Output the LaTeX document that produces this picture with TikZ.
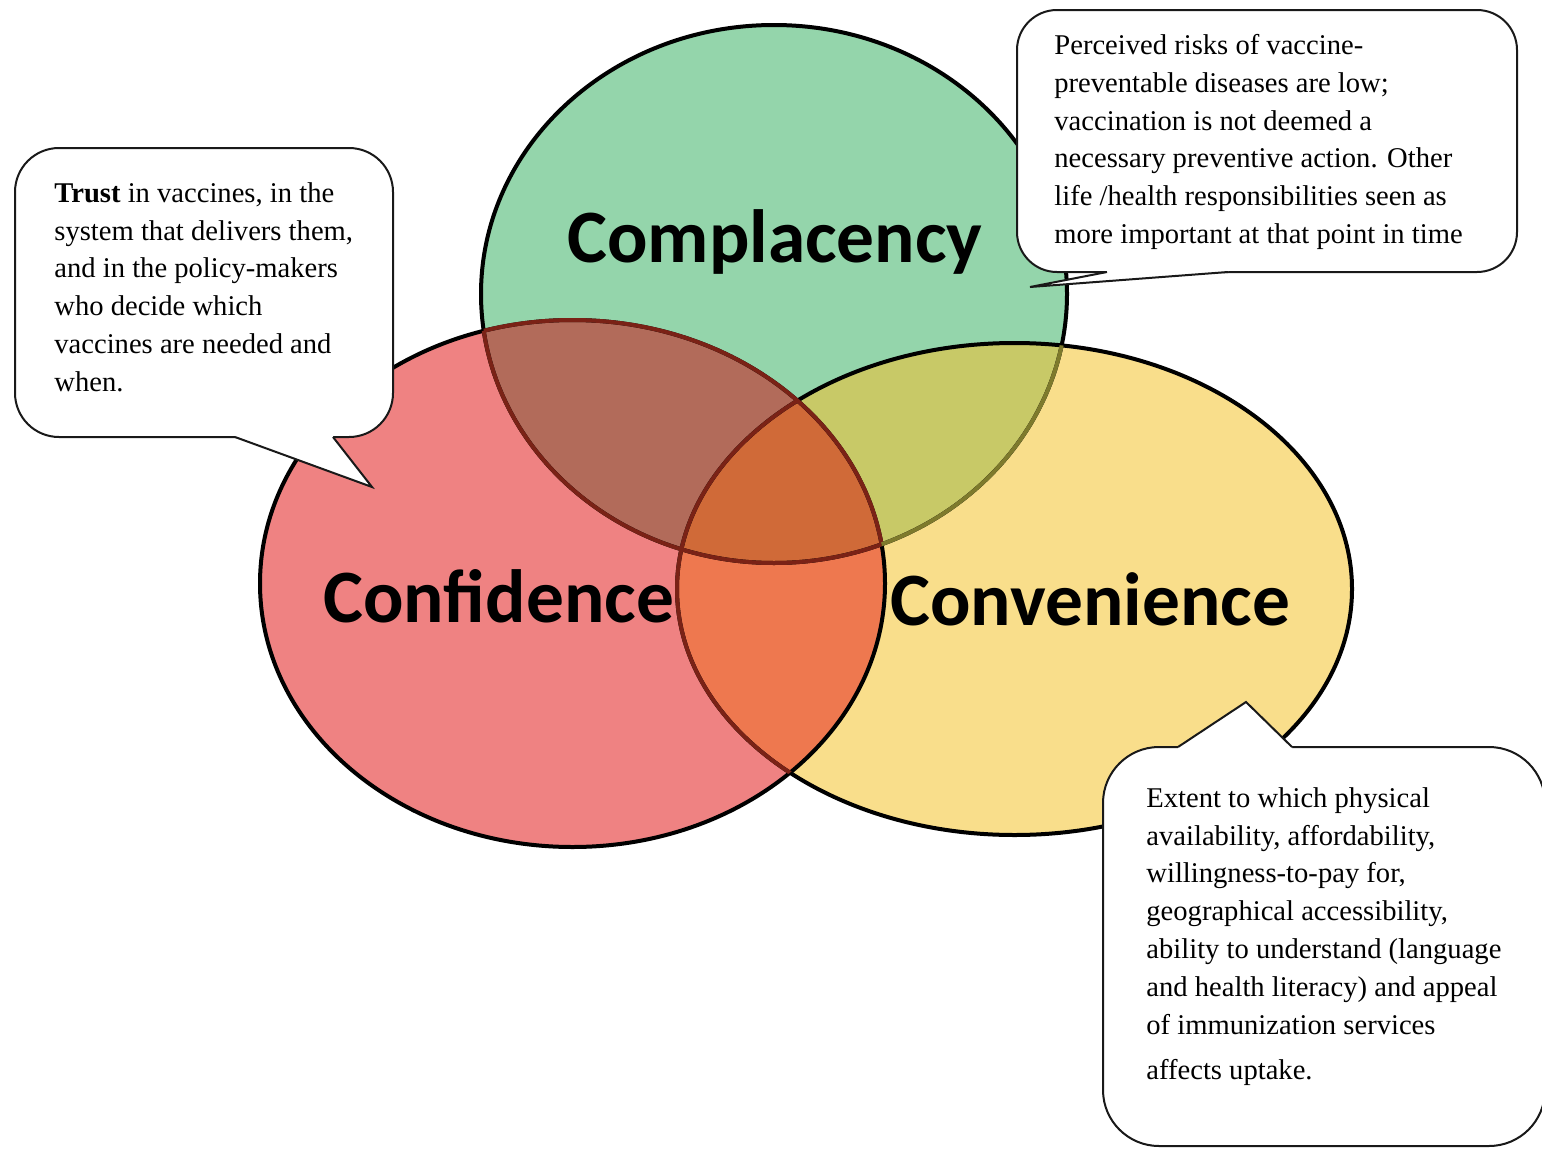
\documentclass[tikz,border=0pt]{standalone}
\usepackage{fontspec}
\setmainfont{Liberation Serif}
\newfontfamily\labelfont{Carlito}
\definecolor{cgreen}{HTML}{94D5AB}
\definecolor{cred}{HTML}{EF8282}
\definecolor{cyellow}{HTML}{F9DE8B}
\definecolor{crg}{HTML}{B26B5A}
\definecolor{cgy}{HTML}{C8C967}
\definecolor{cry}{HTML}{EE784F}
\definecolor{crgy}{HTML}{D06A38}
\definecolor{dred}{HTML}{7A2216}
\definecolor{dolive}{HTML}{7E7A2C}
\newcommand{\GreenE}{(774,294) ellipse [x radius=293, y radius=269]}
\newcommand{\RedE}{(572.5,583.5) ellipse [x radius=312.5, y radius=263.5]}
\newcommand{\YellowE}{(1014.5,589) ellipse [x radius=337.5, y radius=246]}
\begin{document}
\begin{tikzpicture}[x=0.5pt,y=-0.5pt,
  rim/.style={line width=2pt},
  callout/.style={draw=black!90, fill=white, line width=1pt},
  tailline/.style={draw=black!90, line width=1pt, line join=miter},
  bodytext/.style={anchor=north west, inner sep=0pt, align=left,
    font=\fontsize{14.3}{18.9}\selectfont},
  biglabel/.style={anchor=base west, inner sep=0pt,
    font=\labelfont\bfseries\fontsize{37.7}{40}\selectfont}]
\useasboundingbox (0,0) rectangle (1542,1151);
% fills
\fill[cgreen] \GreenE;
\fill[cyellow] \YellowE;
\fill[cred] \RedE;
\begin{scope}\clip \RedE; \fill[crg] \GreenE; \end{scope}
\begin{scope}\clip \YellowE; \fill[cgy] \GreenE; \end{scope}
\begin{scope}\clip \RedE; \fill[cry] \YellowE; \end{scope}
\begin{scope}\clip \RedE; \clip \YellowE; \fill[crgy] \GreenE; \end{scope}
% borders
\draw[rim] \GreenE;
\draw[rim] \YellowE;
\draw[rim] \RedE;
\begin{scope}\clip \RedE; \draw[rim,dred] \GreenE; \draw[rim,dred] \YellowE; \end{scope}
\begin{scope}\clip \GreenE; \draw[rim,dred] \RedE; \end{scope}
\begin{scope}[even odd rule]
  \clip \YellowE;
  \clip (0,0) rectangle (1542,1151) \RedE;
  \draw[rim,dolive] \GreenE;
\end{scope}
% labels
\node[biglabel] (complacency) at (567,262) {Complacency};
\node[biglabel] (confidence) at (323,622) {Confidence};
\node[biglabel] (convenience) at (890,625) {Convenience};
% left callout
\draw[callout, rounded corners=22pt] (15,148) rectangle (393,437);
\fill[white] (235,437) -- (372,487) -- (333,437) -- (333,434) -- (235,434) -- cycle;
\draw[tailline] (235,437) -- (372,487) -- (333,437);
\node[bodytext] (trust) at (54,182) {\textbf{Trust} in vaccines, in the\\
system that delivers them,\\
and in the policy-makers\\
who decide which\\
vaccines are needed and\\
when.};
% top right callout
\draw[callout, rounded corners=20pt] (1017,10) rectangle (1517,272);
\fill[white] (1107,272) -- (1030,287) -- (1228,272) -- (1228,269) -- (1107,269) -- cycle;
\draw[tailline] (1107,272) -- (1030,287) -- (1228,272);
\node[bodytext] (risk) at (1054,34) {Perceived risks of vaccine-\\
preventable diseases are low;\\
vaccination is not deemed a\\
necessary preventive action. Other\\
life /health responsibilities seen as\\
more important at that point in time};
% bottom callout
\draw[callout, rounded corners=28pt] (1103,747) rectangle (1545,1146);
\fill[white] (1178,747) -- (1246,702) -- (1292,747) -- (1292,750) -- (1178,750) -- cycle;
\draw[tailline] (1178,747) -- (1246,702) -- (1292,747);
\node[bodytext] (extent) at (1146,787) {Extent to which physical\\
availability, affordability,\\
willingness-to-pay for,\\
geographical accessibility,\\
ability to understand (language\\
and health literacy) and appeal\\
of immunization services\\[3.6pt]
affects uptake.};
\end{tikzpicture}
\end{document}
